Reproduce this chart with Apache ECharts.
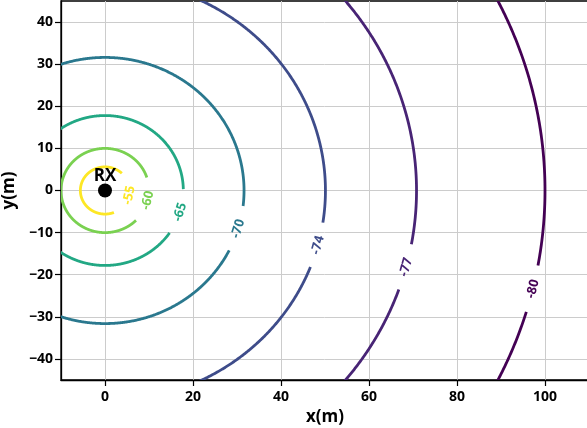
<!DOCTYPE html>
<html>
<head>
<meta charset="utf-8">
<script src="https://cdn.jsdelivr.net/npm/echarts@6/dist/echarts.min.js"></script>
<style>
  html, body { margin: 0; padding: 0; background: #fff; }
  #chart { width: 587px; height: 428px; }
</style>
</head>
<body>
<div id="chart"></div>
<script>
// Received power contours (dBm) around the receiver at the origin
const levels = [-80, -77, -74, -70, -65, -60, -55];
const radii = [100, 70.8, 50.1, 31.6, 17.8, 10, 5.6];          // contour radius, m
const labelAngles = [-13.5, -14.9, -15, -16.7, -16.7, -13.7, -11.5]; // where each label sits, degrees
const lineColors = ['#440154', '#482475', '#3e4c8a', '#2a788e', '#22a884', '#7ad151', '#fde725'];
const xTicks = [0, 20, 40, 60, 80, 100];
const yTicks = [-40, -30, -20, -10, 0, 10, 20, 30, 40];
const receiver = { name: 'RX', x: 0, y: 0 };

const FONT = '"Open Sans"';
const contourData = levels.map((lv, i) => ({
  value: [receiver.x, receiver.y, radii[i], labelAngles[i], lv],
  itemStyle: { color: lineColors[i] }
}));

const GAP = 23; // half-width of the break left in a line around its label, px

function renderContour(params, api) {
  const cx = api.value(0), cy = api.value(1), r = api.value(2);
  const a = api.value(3) * Math.PI / 180;
  const lv = api.value(4);
  const color = lineColors[params.dataIndex];
  const pt = t => api.coord([cx + r * Math.cos(t), cy + r * Math.sin(t)]);
  const lp = pt(a);
  const segments = [];
  let cur = [];
  const N = 1440;
  for (let k = 0; k <= N; k++) {
    const t = a + Math.PI * 2 * k / N;
    const p = pt(t);
    const d = Math.hypot(p[0] - lp[0], p[1] - lp[1]);
    if (d < GAP) {
      if (cur.length > 1) segments.push(cur);
      cur = [];
    } else {
      cur.push(p);
    }
  }
  if (cur.length > 1) segments.push(cur);
  const p1 = pt(a + 0.01), p2 = pt(a - 0.01);
  let rot = Math.atan2(-(p1[1] - p2[1]), p1[0] - p2[0]);
  if (rot > Math.PI / 2) rot -= Math.PI;
  if (rot < -Math.PI / 2) rot += Math.PI;
  const children = segments.map(s => ({
    type: 'polyline',
    shape: { points: s },
    style: { stroke: color, lineWidth: 2.8, fill: null }
  }));
  children.push({
    type: 'text',
    x: lp[0], y: lp[1],
    rotation: rot,
    style: {
      text: String(lv),
      fill: color,
      font: 'bold 13px ' + FONT,
      align: 'center',
      verticalAlign: 'middle'
    }
  });
  const cs = params.coordSys;
  return {
    type: 'group',
    clipPath: { type: 'rect', shape: { x: cs.x, y: cs.y, width: cs.width, height: cs.height } },
    children
  };
}

const minus = v => String(v).replace('-', '\u2212');

const chart = echarts.init(document.getElementById('chart'), null, { renderer: 'canvas' });
chart.setOption({
  animation: false,
  backgroundColor: '#fff',
  grid: {
    left: 61, top: 1, width: 528, height: 379,
    outerBoundsMode: 'none', containLabel: false,
    show: true, borderColor: '#000', borderWidth: 1.3, backgroundColor: 'transparent'
  },
  xAxis: {
    type: 'value', min: -10, max: 110,
    name: 'x(m)', nameLocation: 'middle', nameGap: 24,
    nameTextStyle: { fontFamily: FONT, fontWeight: 'bold', fontSize: 17, color: '#000' },
    axisLine: { onZero: false, lineStyle: { color: '#000', width: 1.3 } },
    axisTick: { show: true, length: 6, customValues: xTicks, lineStyle: { color: '#000', width: 1.2 } },
    axisLabel: { customValues: xTicks, margin: 10, fontFamily: FONT, fontWeight: 'bold', fontSize: 14, color: '#000', formatter: minus },
    splitLine: { show: true, lineStyle: { color: '#cccccc', width: 1 } }
  },
  yAxis: {
    type: 'value', min: -45, max: 45,
    name: 'y(m)', nameLocation: 'middle', nameGap: 31, nameRotate: 90,
    nameTextStyle: { fontFamily: FONT, fontWeight: 'bold', fontSize: 17, color: '#000' },
    axisLine: { onZero: false, lineStyle: { color: '#000', width: 1.3 } },
    axisTick: { show: true, length: 6, customValues: yTicks, lineStyle: { color: '#000', width: 1.2 } },
    axisLabel: { customValues: yTicks, margin: 8, fontFamily: FONT, fontWeight: 'bold', fontSize: 14, color: '#000', formatter: minus },
    splitLine: { show: true, lineStyle: { color: '#cccccc', width: 1 } }
  },
  series: [
    {
      type: 'custom',
      clip: true,
      renderItem: renderContour,
      encode: { x: 0, y: 1 },
      data: contourData,
      z: 2
    },
    {
      type: 'scatter',
      data: [[receiver.x, receiver.y]],
      symbol: 'circle',
      symbolSize: 14,
      itemStyle: { color: '#000', opacity: 1 },
      emphasis: { disabled: true },
      label: {
        show: true, position: 'top', distance: -1,
        formatter: receiver.name,
        fontFamily: FONT, fontWeight: 'bold', fontSize: 17, color: '#000'
      },
      z: 5
    }
  ]
});
</script>
</body>
</html>
